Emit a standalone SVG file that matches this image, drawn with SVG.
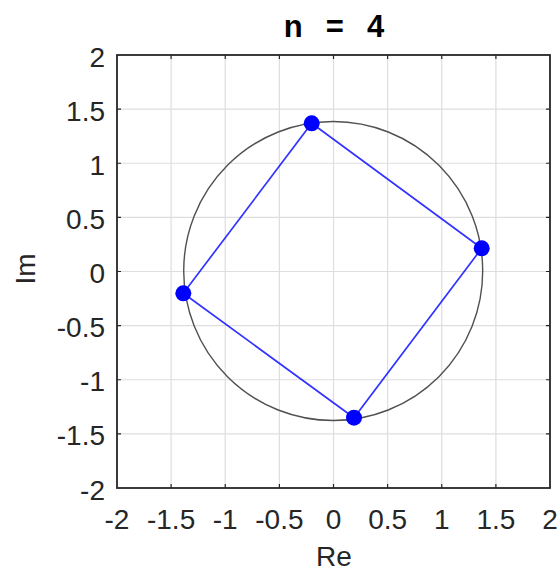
<svg xmlns="http://www.w3.org/2000/svg" width="560" height="573" viewBox="0 0 560 573">
<style>
.grid{stroke:#dedede;stroke-width:1.2;fill:none}
.tick{stroke:#262626;stroke-width:1.2}
.lbl{font-family:"Liberation Sans",Arial,sans-serif;font-size:28px;fill:#262626}
.ylbl{text-anchor:end}
.xlbl{text-anchor:middle}
.edge{stroke:#0000ff;stroke-width:1.7;fill:none;opacity:0.8}
.pt{fill:#0000ff}
</style>
<rect width="560" height="573" fill="#ffffff"/>
<g id="grid">
<path class="grid" d="M171.1 55V488M225.25 55V488M279.4 55V488M333.5 55V488M387.6 55V488M441.75 55V488M495.9 55V488M117 109.1H550M117 163.25H550M117 217.4H550M117 271.5H550M117 325.6H550M117 379.75H550M117 433.9H550"/>
</g>
<g id="ticks">
<path class="tick" d="M171.1 488v-4M225.25 488v-4M279.4 488v-4M333.5 488v-4M387.6 488v-4M441.75 488v-4M495.9 488v-4M171.1 55v4M225.25 55v4M279.4 55v4M333.5 55v4M387.6 55v4M441.75 55v4M495.9 55v4M117 109.1h4M117 163.25h4M117 217.4h4M117 271.5h4M117 325.6h4M117 379.75h4M117 433.9h4M550 109.1h-4M550 163.25h-4M550 217.4h-4M550 271.5h-4M550 325.6h-4M550 379.75h-4M550 433.9h-4"/>
</g>
<rect id="axes" x="117" y="55" width="433" height="433" fill="none" stroke="#262626" stroke-width="1.8"/>
<g id="ylabels" class="lbl ylbl">
<text x="105" y="66.5">2</text>
<text x="105" y="120.6">1.5</text>
<text x="105" y="174.75">1</text>
<text x="105" y="228.9">0.5</text>
<text x="105" y="283">0</text>
<text x="105" y="337.1">-0.5</text>
<text x="105" y="391.25">-1</text>
<text x="105" y="445.4">-1.5</text>
<text x="105" y="499.5">-2</text>
</g>
<g id="xlabels" class="lbl xlbl">
<text x="117" y="529">-2</text>
<text x="171.1" y="529">-1.5</text>
<text x="225.25" y="529">-1</text>
<text x="279.4" y="529">-0.5</text>
<text x="333.5" y="529">0</text>
<text x="387.6" y="529">0.5</text>
<text x="441.75" y="529">1</text>
<text x="495.9" y="529">1.5</text>
<text x="550" y="529">2</text>
</g>
<text id="title" x="334" y="37" font-family="'Liberation Sans',Arial,sans-serif" font-size="31" font-weight="bold" text-anchor="middle" fill="#000000" word-spacing="3" xml:space="preserve">n  =  4</text>
<text id="xlabel" class="lbl xlbl" x="334" y="566">Re</text>
<text id="ylabel" class="lbl xlbl" transform="translate(35 269) rotate(-90)">Im</text>
<circle id="unit-circle" cx="333.2" cy="271" r="149.5" fill="none" stroke="#505050" stroke-width="1.4"/>
<g id="connectors">
<path class="edge" d="M481.7 248.3L311.7 123.3L183.3 293.3L354 417.7Z"/>
</g>
<g id="p1"><circle class="pt" cx="481.7" cy="248.3" r="8"/></g>
<g id="p2"><circle class="pt" cx="311.7" cy="123.3" r="8"/></g>
<g id="p3"><circle class="pt" cx="183.3" cy="293.3" r="8"/></g>
<g id="p4"><circle class="pt" cx="354" cy="417.7" r="8"/></g>
</svg>
